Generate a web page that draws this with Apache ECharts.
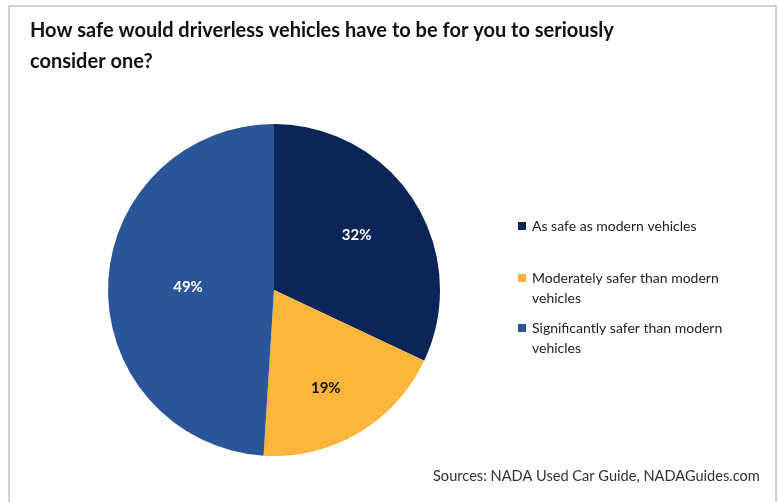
<!DOCTYPE html>
<html>
<head>
<meta charset="utf-8">
<style>
  html, body { margin: 0; padding: 0; background: #ffffff; }
  #chart { width: 779px; height: 502px; }
</style>
<script src="https://cdn.jsdelivr.net/npm/echarts@6/dist/echarts.min.js"></script>
</head>
<body>
<div id="chart"></div>
<script>
// Survey answers and their shares (percent)
const categories = [
  'As safe as modern vehicles',
  'Moderately safer than modern vehicles',
  'Significantly safer than modern vehicles'
];
const shares = [32, 19, 49];
// Legend wording split over lines as laid out beside the pie
const legendLines = [
  ['As safe as modern vehicles'],
  ['Moderately safer than modern', 'vehicles'],
  ['Significantly safer than modern', 'vehicles']
];
const colors = ['#0b2559', '#fdb53c', '#2a5699'];
const labelColors = ['#ffffff', '#111111', '#ffffff'];
// Nudge of each percentage label away from the default inside spot
const labelNudges = [[10, -9], [8, 24], [0, 0]];

const FONT = 'Lato, "Open Sans", sans-serif';

const chart = echarts.init(document.getElementById('chart'), null, { renderer: 'canvas' });

// One legend block per answer so each can be placed on its own row
const legendTops = [211, 263, 313];
const legends = categories.map((name, i) => {
  const rich = {
    m: { width: 8, height: 8, backgroundColor: colors[i] },
    g: { width: 6 },
    s: { width: 14 },
    t: { fontFamily: FONT, fontSize: 14, color: '#222222', lineHeight: 20 }
  };
  return {
    orient: 'vertical',
    left: 508,
    top: legendTops[i],
    icon: 'none',
    itemWidth: 0,
    itemHeight: 8,
    selectedMode: false,
    data: [name],
    formatter: () => legendLines[i]
      .map((ln, k) => (k === 0 ? '{m|}{g|}' : '{s|}') + '{t|' + ln + '}')
      .join('\n'),
    textStyle: { rich: rich, lineHeight: 20 }
  };
});

chart.setOption({
  backgroundColor: '#ffffff',
  animation: false,
  color: colors,
  title: [
    {
      text: 'How safe would driverless vehicles have to be for you to seriously\nconsider one?',
      left: 25,
      top: 10,
      textStyle: {
        fontFamily: FONT,
        fontWeight: 'bold',
        fontSize: 20,
        lineHeight: 31,
        color: '#111111'
      }
    },
    {
      text: 'Sources: NADA Used Car Guide, NADAGuides.com',
      left: 428,
      top: 464,
      textStyle: {
        fontFamily: FONT,
        fontWeight: 'normal',
        fontSize: 14.6,
        color: '#333333'
      }
    }
  ],
  legend: legends,
  graphic: [
    {
      type: 'rect',
      silent: true,
      z: -1,
      shape: { x: 9, y: 6, width: 767, height: 520 },
      style: { fill: 'none', stroke: '#c4c4c4', lineWidth: 1.5 }
    }
  ],
  series: [
    {
      type: 'pie',
      center: [274, 290],
      radius: 166,
      startAngle: 90,
      clockwise: true,
      avoidLabelOverlap: false,
      label: {
        show: true,
        position: 'inside',
        fontFamily: FONT,
        fontWeight: 'bold',
        fontSize: 15,
        formatter: p => p.value + '%'
      },
      labelLine: { show: false },
      itemStyle: { borderWidth: 0 },
      emphasis: { disabled: true },
      data: categories.map((name, i) => ({
        name: name,
        value: shares[i],
        label: { color: labelColors[i], offset: labelNudges[i] }
      }))
    }
  ]
});
</script>
</body>
</html>
